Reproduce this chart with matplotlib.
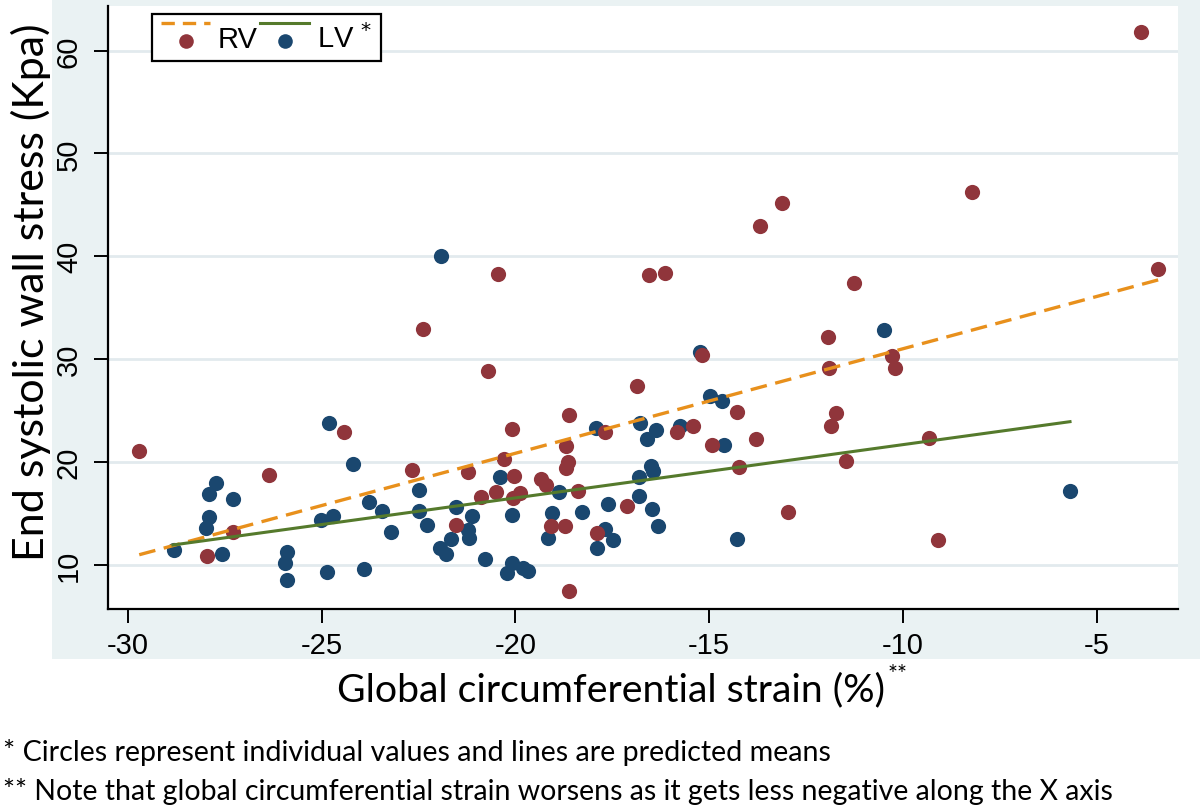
import matplotlib
matplotlib.use("Agg")
import matplotlib.pyplot as plt
from matplotlib.patches import Rectangle
from matplotlib.lines import Line2D
from matplotlib.legend_handler import HandlerBase
from matplotlib import font_manager

# ---------------- data ----------------
rv_x = [-29.71, -24.43, -26.37, -27.30, -27.95, -16.86, -18.61, -20.08, -22.68, -21.22,
        -18.70, -18.65, -18.69, -20.30, -20.04, -19.33, -19.22, -17.69, -15.84, -20.51,
        -20.89, -19.88, -20.06, -18.38, -21.53, -19.09, -18.72, -17.13, -17.90, -18.61,
        -15.19, -15.43, -14.93, -14.29, -13.79, -11.94, -11.90, -10.29, -10.20, -11.72,
        -11.87, -11.47, -14.23, -12.97, -8.21, -3.41, -11.27, -9.34, -9.10, -20.46,
        -16.56, -16.14, -22.38, -20.71, -13.11, -13.70, -3.86]
rv_y = [21.08, 22.93, 18.73, 13.16, 10.87, 27.39, 24.56, 23.22, 19.15, 19.05,
        21.53, 20.00, 19.41, 20.22, 18.59, 18.34, 17.78, 22.89, 22.89, 17.10,
        16.54, 16.97, 16.45, 17.17, 13.80, 13.71, 13.71, 15.66, 13.06, 7.45,
        30.41, 23.48, 21.59, 24.85, 22.18, 32.18, 29.09, 30.26, 29.09, 24.79,
        23.48, 20.10, 19.44, 15.11, 46.28, 38.80, 37.40, 22.31, 12.40, 38.31,
        38.14, 38.41, 32.90, 28.80, 45.15, 42.97, 61.80]

lv_x = [-24.80, -24.19, -27.73, -27.90, -27.28, -27.92, -27.99, -28.81, -27.57, -25.89,
        -25.96, -25.89, -24.87, -23.91, -23.79, -23.45, -23.22, -25.01, -24.72,
        -22.49, -22.49, -22.28, -21.53, -21.13, -21.23, -21.19, -21.66, -21.95, -21.79,
        -20.78, -20.08, -20.21, -19.81, -19.67, -20.39, -20.08, -18.89, -19.05, -19.15,
        -18.29, -17.92, -16.79, -16.37, -16.61, -16.51, -16.46, -16.80, -17.60, -16.80,
        -17.68, -17.49, -17.89, -16.49, -16.31, -15.24, -14.98, -14.67, -15.75, -14.62,
        -10.49, -14.29, -5.69, -21.92]
lv_y = [23.73, 19.74, 17.95, 16.90, 16.41, 14.58, 13.55, 11.43, 11.04, 11.26,
        10.19, 8.49, 9.25, 9.57, 16.12, 15.24, 13.12, 14.29, 14.69,
        17.29, 15.24, 13.80, 15.56, 14.68, 13.38, 12.57, 12.50, 11.59, 11.04,
        10.55, 10.19, 9.21, 9.64, 9.40, 18.56, 14.85, 17.03, 15.01, 12.57,
        15.11, 23.32, 23.74, 23.06, 22.18, 19.57, 19.08, 18.47, 15.89, 16.64,
        13.45, 12.40, 11.59, 15.43, 13.71, 30.65, 26.41, 25.92, 23.48, 21.59,
        32.86, 12.50, 17.13, 40.04]

# predicted means (end points of the fitted lines)
rv_fit_x = [-29.71, -3.41]
rv_fit_y = [10.95, 37.70]
lv_fit_x = [-28.84, -5.69]
lv_fit_y = [11.90, 23.90]

x_ticks = [-30, -25, -20, -15, -10, -5]
y_ticks = [10, 20, 30, 40, 50, 60]

x_title = "Global circumferential strain (%)"
y_title = "End systolic wall stress (Kpa)"
note1 = "* Circles represent individual values and lines are predicted means"
note2 = "** Note that global circumferential strain worsens as it gets less negative along the X axis"

# ---------------- style ----------------
RV_DOT = "#90353b"
LV_DOT = "#1a476f"
RV_LINE = "#e8901c"
LV_LINE = "#557a2c"
BG = "#eaf2f3"
GRID = "#e2eaee"

avail = {f.name for f in font_manager.fontManager.ttflist}
tick_font = "Liberation Sans Narrow" if "Liberation Sans Narrow" in avail else "Liberation Sans"
text_font = "Lato" if "Lato" in avail else "DejaVu Sans"

W, H = 1200, 812
fig = plt.figure(figsize=(12, 8.12), dpi=100)
fig.patches.append(Rectangle((52 / W, 1 - 660 / H), 1 - 52 / W, 660 / H,
                             transform=fig.transFigure, facecolor=BG,
                             edgecolor="none", zorder=-10))

ax = fig.add_axes([108 / W, 1 - 610 / H, (1178 - 108) / W, (610 - 7) / H])
ax.set_facecolor("white")
ax.set_xlim(-30.516, -2.903)
ax.set_ylim(5.67, 64.35)

for s in ("top", "right"):
    ax.spines[s].set_visible(False)
for s in ("left", "bottom"):
    ax.spines[s].set_linewidth(1.6)
    ax.spines[s].set_color("black")

ax.set_xticks(x_ticks)
ax.set_xticklabels([str(v) for v in x_ticks])
ax.set_yticks(y_ticks)
ax.set_yticklabels([str(v) for v in y_ticks], rotation=90, va="center")
ax.tick_params(axis="both", direction="out", length=10, width=1.4, color="black",
               labelsize=21)
ax.tick_params(axis="x", pad=6)
ax.tick_params(axis="y", pad=8)
for lab in ax.get_xticklabels() + ax.get_yticklabels():
    lab.set_fontfamily(tick_font)

ax.yaxis.grid(True, color=GRID, linewidth=2)
ax.set_axisbelow(True)

ax.scatter(lv_x, lv_y, s=120, color=LV_DOT, linewidths=0, zorder=3)
ax.scatter(rv_x, rv_y, s=120, color=RV_DOT, linewidths=0, zorder=4)
rv_line, = ax.plot(rv_fit_x, rv_fit_y, color=RV_LINE, lw=2.4, dashes=(5, 2.6), zorder=5)
lv_line, = ax.plot(lv_fit_x, lv_fit_y, color=LV_LINE, lw=2.2, zorder=5)


class StackedKey(HandlerBase):
    def __init__(self, dot_color):
        super().__init__()
        self.dot_color = dot_color

    def create_artists(self, legend, orig_handle, xdescent, ydescent, width, height,
                       fontsize, trans):
        cy = height / 2 - ydescent
        ln = Line2D([-xdescent, -xdescent + width], [cy + 10, cy + 10],
                    color=orig_handle.get_color(), lw=orig_handle.get_linewidth())
        if orig_handle.get_linestyle() != "-":
            ln.set_dashes((4, 2.4))
        mk = Line2D([-xdescent + width / 2], [cy - 3], marker="o", markersize=10.5,
                    markerfacecolor=self.dot_color, markeredgewidth=0, linestyle="none")
        ln.set_transform(trans)
        mk.set_transform(trans)
        return [ln, mk]


leg = ax.legend([rv_line, lv_line], ["RV", "LV $^{*}$"], ncol=2,
                handler_map={rv_line: StackedKey(RV_DOT), lv_line: StackedKey(LV_DOT)},
                loc="upper left", bbox_to_anchor=(152 / W, 1 - 15 / H),
                bbox_transform=fig.transFigure, prop={"family": "Liberation Sans", "size": 21},
                handlelength=1.7, handleheight=1.0, handletextpad=0.25, columnspacing=0.08,
                borderpad=0.3, borderaxespad=0, frameon=True, fancybox=False,
                edgecolor="black", framealpha=1)
leg.get_frame().set_linewidth(1.6)

fig.text(611 / W, 1 - 690 / H, x_title, ha="center", va="center",
         fontsize=28.3, family=text_font)
fig.text(888 / W, 1 - 675 / H, "**", ha="left", va="center", fontsize=17, family=text_font)
fig.text(31 / W, 1 - 292 / H, y_title, ha="center", va="center", rotation=90,
         fontsize=31, family=text_font)
fig.text(3 / W, 1 - 753 / H, note1, ha="left", va="center", fontsize=20.6, family=text_font)
fig.text(3 / W, 1 - 792 / H, note2, ha="left", va="center", fontsize=20.5, family=text_font)

fig.savefig("out.png", dpi=100, facecolor="white")
